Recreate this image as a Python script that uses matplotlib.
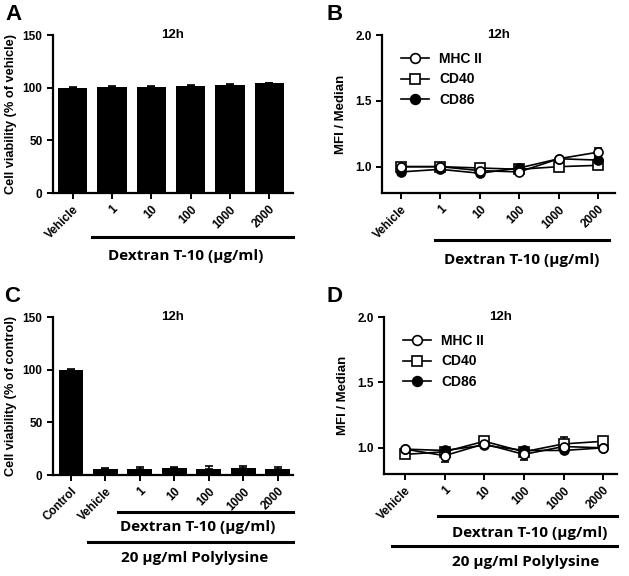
import matplotlib
matplotlib.use("Agg")
import matplotlib.pyplot as plt
from matplotlib.lines import Line2D
import numpy as np

plt.rcParams['font.family'] = ['Liberation Sans', 'DejaVu Sans']

# ---- data ----
cats_a = ["Vehicle", "1", "10", "100", "1000", "2000"]
via_a = [100, 101, 101, 102, 102.5, 104]
via_a_err = [0.3, 0.5, 0.5, 0.7, 0.8, 0.8]

cats_c = ["Control", "Vehicle", "1", "10", "100", "1000", "2000"]
via_c = [100, 6, 6, 7, 6, 7, 6]
via_c_err = [0.3, 0.8, 1.5, 1.0, 3.0, 1.8, 1.5]

cats_b = ["Vehicle", "1", "10", "100", "1000", "2000"]
b_mhc = [1.00, 1.00, 0.97, 0.96, 1.06, 1.11]
b_mhc_err = [0.01, 0.01, 0.01, 0.01, 0.01, 0.03]
b_cd40 = [1.00, 1.00, 0.99, 0.98, 1.00, 1.01]
b_cd40_err = [0.01, 0.01, 0.01, 0.01, 0.01, 0.01]
b_cd86 = [0.96, 0.98, 0.95, 0.99, 1.06, 1.05]
b_cd86_err = [0.01, 0.01, 0.01, 0.01, 0.01, 0.02]

d_mhc = [0.99, 0.94, 1.03, 0.95, 1.01, 1.00]
d_mhc_err = [0.01, 0.05, 0.01, 0.04, 0.01, 0.01]
d_cd40 = [0.95, 0.97, 1.05, 0.97, 1.03, 1.05]
d_cd40_err = [0.01, 0.01, 0.01, 0.02, 0.05, 0.03]
d_cd86 = [0.99, 0.98, 1.02, 0.98, 0.98, 1.00]
d_cd86_err = [0.01, 0.01, 0.01, 0.01, 0.01, 0.01]

W, H = 629, 576
fig = plt.figure(figsize=(W / 100, H / 100), dpi=100)

def ax_at(l, t, r, b):
    return fig.add_axes([l / W, 1 - b / H, (r - l) / W, (b - t) / H])

def style(ax):
    for s in ("top", "right"):
        ax.spines[s].set_visible(False)
    for s in ("left", "bottom"):
        ax.spines[s].set_linewidth(1.6)
    ax.tick_params(axis="both", width=1.4, length=4, labelsize=8.5, direction="out")
    for lab in ax.get_yticklabels():
        lab.set_fontweight("bold")

def xlabels(ax, labels):
    ax.set_xticks(range(len(labels)))
    ax.set_xticklabels(labels, rotation=45, ha="right", rotation_mode="anchor",
                       fontsize=8.5, fontweight="bold")

def title(ax):
    ax.text(0.5, 1.0, "12h", transform=ax.transAxes, ha="center", va="center",
            fontsize=9.5, fontweight="bold")

def hline(x0, x1, y):
    fig.add_artist(Line2D([x0 / W, x1 / W], [1 - y / H, 1 - y / H],
                          color="black", lw=2.2, transform=fig.transFigure))

def ftext(x, y, s, **kw):
    fig.text(x / W, 1 - y / H, s, ha="center", va="center", **kw)

lblfont = dict(fontsize=11, fontweight="bold", family=["Open Sans", "DejaVu Sans"])

# ---- Panel A ----
axA = ax_at(53, 35, 293, 193)
x = np.arange(len(cats_a))
axA.bar(x, via_a, width=0.75, color="black",
        yerr=[np.zeros(len(x)), via_a_err], capsize=3, error_kw=dict(lw=1.2, capthick=1.2))
axA.set_xlim(-0.5, 5.6)
axA.set_ylim(0, 150)
axA.set_yticks([0, 50, 100, 150])
style(axA)
xlabels(axA, cats_a)
axA.set_ylabel("Cell viability (% of vehicle)", fontsize=9.2, fontweight="bold", labelpad=4)
title(axA)
hline(92, 293, 237)
ftext(186, 256, "Dextran T-10 (µg/ml)", **lblfont)

# ---- Panel C ----
axC = ax_at(53, 317, 293, 475)
x = np.arange(len(cats_c))
axC.bar(x, via_c, width=0.72, color="black",
        yerr=[np.zeros(len(x)), via_c_err], capsize=3, error_kw=dict(lw=1.2, capthick=1.2))
axC.set_xlim(-0.52, 6.44)
axC.set_ylim(0, 150)
axC.set_yticks([0, 50, 100, 150])
style(axC)
xlabels(axC, cats_c)
axC.set_ylabel("Cell viability (% of control)", fontsize=9.2, fontweight="bold", labelpad=4)
title(axC)
hline(118, 293, 512)
ftext(198, 527, "Dextran T-10 (µg/ml)", **lblfont)
hline(88, 293, 542)
ftext(195, 558, "20 µg/ml Polylysine", **lblfont)

# ---- Line panels ----
def line_panel(ax, cats, mhc, mhc_e, cd40, cd40_e, cd86, cd86_e, xlim):
    x = np.arange(len(cats))
    ekw = dict(color="black", lw=1.2, capsize=3, capthick=1.2, ms=6.5, mew=1.2)
    ax.errorbar(x, cd40, yerr=cd40_e, marker="s", mfc="white", mec="black", **ekw)
    ax.errorbar(x, cd86, yerr=cd86_e, marker="o", mfc="black", mec="black", **ekw)
    ax.errorbar(x, mhc, yerr=mhc_e, marker="o", mfc="white", mec="black", **ekw)
    ax.set_xlim(*xlim)
    ax.set_ylim(0.8, 2.0)
    ax.set_yticks([1.0, 1.5, 2.0])
    ax.set_yticklabels(["1.0", "1.5", "2.0"])
    style(ax)
    xlabels(ax, cats)
    ax.set_ylabel("MFI / Median", fontsize=9.5, fontweight="bold", labelpad=6)
    title(ax)
    handles = [
        Line2D([], [], color="black", lw=1.2, marker="o", mfc="white", mec="black", ms=7, mew=1.2),
        Line2D([], [], color="black", lw=1.2, marker="s", mfc="white", mec="black", ms=7, mew=1.2),
        Line2D([], [], color="black", lw=1.2, marker="o", mfc="black", mec="black", ms=7, mew=1.2),
    ]
    ax.legend(handles, ["MHC II", "CD40", "CD86"], loc="upper left",
              bbox_to_anchor=(0.03, 0.97), frameon=False,
              prop=dict(size=10, weight="bold"), handlelength=2.0,
              labelspacing=0.45, handletextpad=0.7)

axB = ax_at(382, 35, 615, 193)
line_panel(axB, cats_b, b_mhc, b_mhc_err, b_cd40, b_cd40_err, b_cd86, b_cd86_err, (-0.48, 5.43))
hline(435, 609, 240)
ftext(522, 260, "Dextran T-10 (µg/ml)", **lblfont)

axD = ax_at(384, 317, 617, 474)
line_panel(axD, cats_b, d_mhc, d_mhc_err, d_cd40, d_cd40_err, d_cd86, d_cd86_err, (-0.53, 5.35))
hline(438, 617, 516)
ftext(530, 533, "Dextran T-10 (µg/ml)", **lblfont)
hline(392, 617, 546)
ftext(526, 562, "20 µg/ml Polylysine", **lblfont)

# panel letters
for s, (px, py) in {"A": (14, 14), "B": (335, 14), "C": (12, 296), "D": (335, 296)}.items():
    ftext(px, py, s, fontsize=16, fontweight="bold")

fig.savefig("out.png", dpi=100)
